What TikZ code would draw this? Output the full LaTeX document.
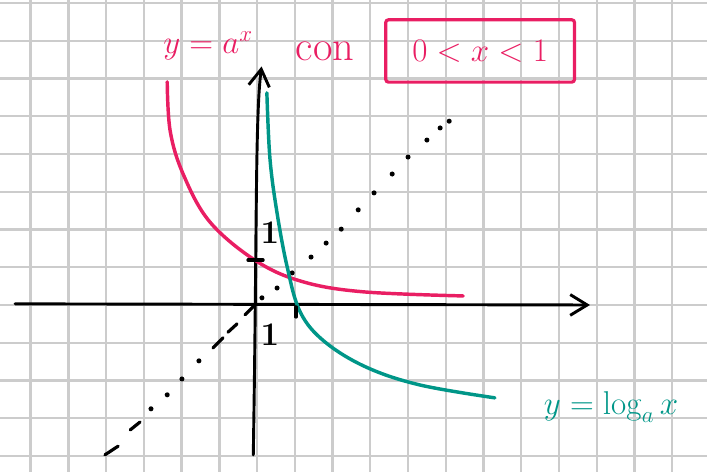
\documentclass[tikz,border=0pt]{standalone}
\usepackage{amsmath,amssymb}
\usepackage{tikz}
\usetikzlibrary{arrows.meta}

\definecolor{rosa}{HTML}{E91E63}
\definecolor{verde}{HTML}{009688}

\begin{document}
\begin{tikzpicture}[
  gridline/.style={gray!40, line width=1.8pt},
  axis/.style={line width=2.2pt, line cap=round, line join=round, -{Straight Barb[length=4.5mm, width=5.5mm]}},
  curve/.style={line width=2.6pt, line cap=round},
  tick/.style={line width=2.4pt, line cap=round},
  scritta/.style={font=\fontsize{26}{30}\selectfont, inner sep=0pt}
]
\useasboundingbox (-6.81,-4.42) rectangle (11.92,8.08);
\draw[gridline] (-6.81,-4.42) grid (11.92,8.08);
% assi
\draw[axis] (-6.41,0.03) -- (8.82,0);
\draw[axis] (-0.1,-3.97) .. controls (0,2) and (-0.05,5) .. (0.12,6.32);
% bisettrice y = x
\draw[tick] (-4.03,-3.97) -- (-3.68,-3.74);
\draw[tick] (-3.36,-3.31) -- (-3.10,-3.10);
\draw[tick] (-1.17,-1.14) -- (-0.90,-0.87);
\draw[tick] (-0.77,-0.72) -- (-0.53,-0.50);
\draw[tick] (-0.32,-0.26) -- (-0.11,-0.05);
\foreach \x/\y in {-2.81/-2.75, -2.38/-2.38, -1.99/-1.96, -1.54/-1.48,
  0.13/0.19, 0.53/0.45, 0.93/0.85, 1.43/1.27, 1.83/1.64, 2.23/2.01, 2.68/2.52,
  3.10/2.97, 3.58/3.47, 4.0/3.92, 4.5/4.37, 4.85/4.69, 5.09/4.87}
  \fill (\x,\y) circle (1.9pt);
% curve
\draw[curve, rosa] plot[smooth, tension=0.6] coordinates {(-2.38,5.91) (-2.30,4.6)
  (-1.95,3.45) (-1.25,2.20) (-0.03,1.17) (1.2,0.62) (2.8,0.35) (5.46,0.24)};
\draw[curve, verde] plot[smooth, tension=0.6] coordinates {(0.26,5.62) (0.34,3.9)
  (0.52,2.5) (0.80,1.0) (1.15,-0.2) (1.80,-0.98) (2.90,-1.65) (4.32,-2.12)
  (6.30,-2.46)};
% tacche
\draw[tick] (-0.24,1.19) -- (0.16,1.19);
\draw[tick] (1.03,-0.05) -- (1.03,-0.32);
\node[scritta] (uno y) at (0.34,1.9) {$\mathbf{1}$};
\node[scritta] (uno x) at (0.34,-0.8) {$\mathbf{1}$};
% scritte
\node[scritta, rosa] (espo) at (-1.30,6.86) {$y=a^x$};
\node[scritta, rosa, font=\fontsize{32}{36}\selectfont] (con) at (1.80,6.72) {con};
\node[scritta, rosa, draw, line width=2.4pt, rounded corners=2pt,
  minimum width=5cm, minimum height=1.65cm] (cond) at (5.91,6.73) {$0<x<1$};
\node[scritta, verde] (loga) at (9.38,-2.70) {$y=\log_a x$};
\end{tikzpicture}
\end{document}
